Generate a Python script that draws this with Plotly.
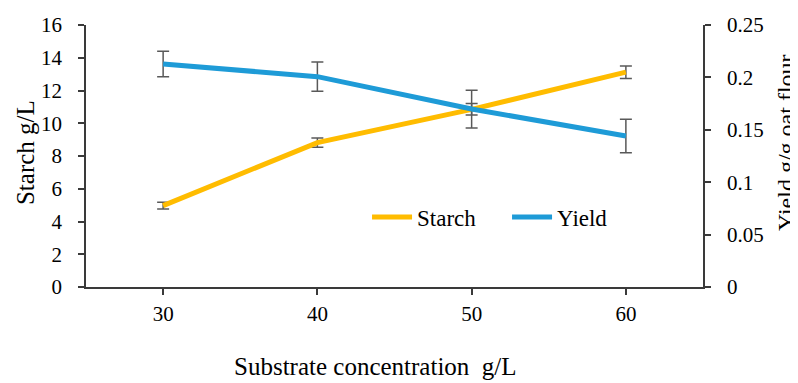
import plotly.graph_objects as go

categories = ["30", "40", "50", "60"]
starch = [4.97, 8.82, 10.85, 13.12]
starch_err = [0.2, 0.28, 0.35, 0.38]
yield_vals = [0.2128, 0.2007, 0.1698, 0.1441]
yield_err = [0.0122, 0.014, 0.018, 0.016]

left_ticks = [0, 2, 4, 6, 8, 10, 12, 14, 16]
right_ticks = [0, 0.05, 0.1, 0.15, 0.2, 0.25]
right_ticklabels = ["0", "0.05", "0.1", "0.15", "0.2", "0.25"]

x_title = "Substrate concentration  g/L"
y_title = "Starch g/L"
y2_title = "Yield g/g oat flour"

FONT = "Liberation Serif, Times New Roman, serif"
ERR_COLOR = "#595959"
AXIS_COLOR = "#3a3a3a"

fig = go.Figure()
fig.add_trace(go.Scatter(
    x=categories, y=starch, name="Starch", mode="lines",
    line=dict(color="#FFBC00", width=5),
    error_y=dict(type="data", array=starch_err, visible=True,
                 color=ERR_COLOR, thickness=1.5, width=6),
    yaxis="y",
))
fig.add_trace(go.Scatter(
    x=categories, y=yield_vals, name="Yield", mode="lines",
    line=dict(color="#1E9BD7", width=5),
    error_y=dict(type="data", array=yield_err, visible=True,
                 color=ERR_COLOR, thickness=1.5, width=6),
    yaxis="y2",
))

axis_common = dict(
    showline=True, linecolor=AXIS_COLOR, linewidth=1.5,
    ticks="outside", ticklen=6, tickcolor=AXIS_COLOR, tickwidth=1.5,
    showgrid=False, zeroline=False, tickfont=dict(size=21),
)

fig.update_layout(
    width=790, height=375,
    margin=dict(l=78, r=95, t=17, b=96, autoexpand=False),
    paper_bgcolor="white", plot_bgcolor="white",
    font=dict(family=FONT, size=21, color="#000000"),
    xaxis=dict(type="category", range=[-0.5, 3.5], ticklabelstandoff=1,
               **axis_common),
    yaxis=dict(range=[0, 16], tickvals=left_ticks, ticklabelstandoff=12,
               **axis_common),
    yaxis2=dict(range=[0, 0.25], tickvals=right_ticks, ticktext=right_ticklabels,
                overlaying="y", side="right", ticklabelstandoff=12,
                **axis_common),
    legend=dict(
        orientation="h", x=0.4555, y=0.267, xanchor="left", yanchor="middle",
        bgcolor="rgba(0,0,0,0)", font=dict(size=23),
        itemwidth=40, entrywidth=85,
    ),
    showlegend=True,
    annotations=[
        dict(text=x_title, xref="paper", yref="paper", x=0.4684, y=-0.3053,
             xanchor="center", yanchor="middle", showarrow=False,
             font=dict(size=25)),
        dict(text=y_title, xref="paper", yref="paper", x=-0.0989, y=0.515,
             xanchor="center", yanchor="middle", showarrow=False,
             textangle=-90, font=dict(size=25)),
        dict(text=y2_title, xref="paper", yref="paper", x=1.1345, y=0.553,
             xanchor="center", yanchor="middle", showarrow=False,
             textangle=-90, font=dict(size=24)),
    ],
)

fig.write_html("out.html")
